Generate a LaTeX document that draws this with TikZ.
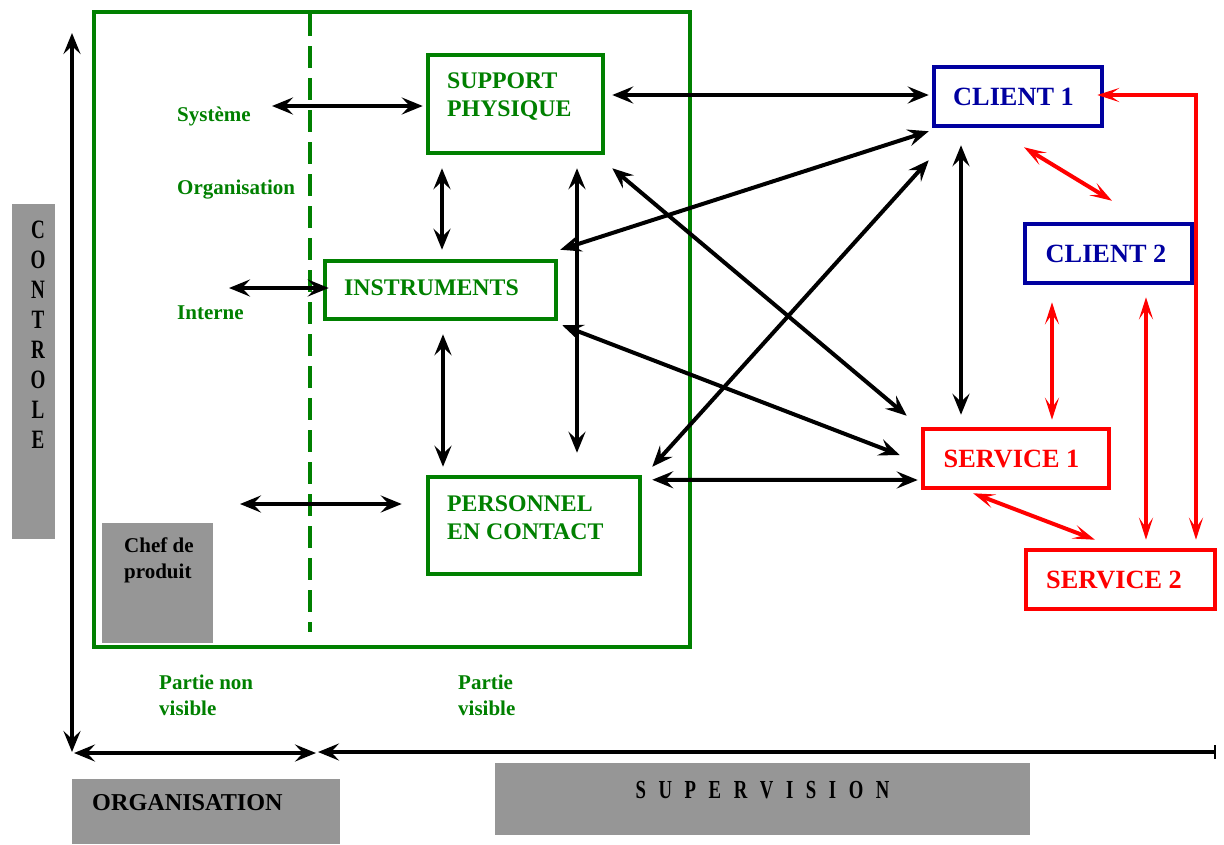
\documentclass[tikz,border=0pt]{standalone}
\usepackage{fontspec}
\usepackage{graphicx}
\setmainfont{Liberation Serif}
\usetikzlibrary{arrows.meta,calc}
\definecolor{dgreen}{RGB}{0,128,0}
\definecolor{dblue}{RGB}{0,0,160}
\definecolor{grayfill}{RGB}{150,150,150}
\definecolor{rred}{RGB}{255,0,0}
\newcommand{\narrow}[1]{\scalebox{0.72}[1]{#1}}
\tikzset{
  Bk/.tip={Stealth[length=21pt,width=17pt,inset=8pt]},
  Rd/.tip={Stealth[length=22pt,width=14pt,inset=10pt]},
  barr/.style={line width=4pt,black,Bk-Bk},
  redarr/.style={line width=4pt,rred,Rd-Rd},
  greenbox/.style={draw=dgreen,line width=4.5pt,inner sep=0pt},
  bluebox/.style={draw=dblue,line width=4.5pt,text=dblue,inner sep=0pt,font=\fontsize{26.3}{30}\selectfont\bfseries},
  redbox/.style={draw=rred,line width=4.5pt,text=rred,inner sep=0pt,font=\fontsize{26.3}{30}\selectfont\bfseries},
  greytile/.style={fill=grayfill,draw=none,inner sep=0pt},
  gtext/.style={text=dgreen,inner sep=0pt,anchor=west,align=left,font=\fontsize{23.8}{28}\selectfont\bfseries},
  gsmall/.style={text=dgreen,inner sep=0pt,anchor=west,align=left,font=\fontsize{21}{26}\selectfont\bfseries},
  btext/.style={text=black,inner sep=0pt,anchor=west,align=left,font=\fontsize{21}{26}\selectfont\bfseries},
  condtext/.style={text=black,inner sep=0pt,font=\fontsize{26.5}{30}\selectfont\bfseries},
}
\begin{document}
\begin{tikzpicture}[x=1pt,y=-1pt]
\useasboundingbox (0,0) rectangle (1224,844);

% grey tiles
\node[greytile,minimum width=43pt,minimum height=335pt] (ctrl) at (33.5,371.5) {};
\foreach \l [count=\i] in {C,O,N,T,R,O,L,E}
  \node[condtext] (ctl\i) at (38,{229.5+30.1*(\i-1)}) {\narrow{\l}};
\node[greytile,minimum width=268pt,minimum height=65pt] (orgbox) at (206,811.5) {};
\node[text=black,inner sep=0pt,anchor=west,font=\fontsize{24.2}{28}\selectfont\bfseries] (orgtxt) at (92,803) {ORGANISATION};
\node[greytile,minimum width=535pt,minimum height=72pt] (supbox) at (762.5,799) {};
\node[condtext,font=\fontsize{26}{30}\selectfont\bfseries] (suptxt) at (762.5,790)
  {\narrow{S\hspace{17.5pt}U\hspace{17.5pt}P\hspace{17.5pt}E\hspace{17.5pt}R\hspace{17.5pt}V\hspace{17.5pt}I\hspace{17.5pt}S\hspace{17.5pt}I\hspace{17.5pt}O\hspace{17.5pt}N}};

% main frame
\node[greenbox,minimum width=596pt,minimum height=635pt] (frame) at (392,329.5) {};
\node[greytile,minimum width=111pt,minimum height=120pt] (chef) at (157.5,583) {};
\node[btext] (cheftxt) at (124,560) {Chef de\\produit};
\coordinate (dtop) at (310,14);
\coordinate (dbot) at (310,632);
\draw[dgreen,line width=4pt,dash pattern=on 22pt off 10pt] (dtop) -- (dbot);

% green boxes
\node[greenbox,fill=white,minimum width=175pt,minimum height=98pt] (sp) at (515.5,104) {};
\node[gtext] (sptxt) at (447,97) {SUPPORT\\PHYSIQUE};
\node[greenbox,fill=white,minimum width=231pt,minimum height=58pt] (ins) at (440.5,290) {};
\node[gtext] (instxt) at (344,288) {INSTRUMENTS};
\node[greenbox,fill=white,minimum width=212pt,minimum height=97pt] (pc) at (534,525.5) {};
\node[gtext] (pctxt) at (447,518) {PERSONNEL\\EN CONTACT};

% side labels
\node[gsmall] (sys) at (177,116) {Système};
\node[gsmall] (orgl) at (177,190) {Organisation};
\node[gsmall] (int) at (177,313) {Interne};
\node[gsmall] (pnv) at (159,695) {Partie non\\visible};
\node[gsmall] (pv) at (458,695) {Partie\\visible};

% clients and services
\node[bluebox,minimum width=168pt,minimum height=59pt] (c1) at (1018,96.5) {\hspace*{-9pt}CLIENT 1};
\node[bluebox,minimum width=167pt,minimum height=59pt] (c2) at (1108.5,253.5) {\hspace*{-5pt}CLIENT 2};
\node[redbox,minimum width=186pt,minimum height=59pt] (s1) at (1016,458.5) {\hspace*{-9pt}SERVICE 1};
\node[redbox,minimum width=189pt,minimum height=59pt] (s2) at (1120.5,579.5) {\hspace*{-13pt}SERVICE 2};

% axes
\coordinate (ytop) at (72,33);
\coordinate (orig) at (72,752);
\coordinate (xmid) at (316,753);
\coordinate (xmidb) at (318,752);
\coordinate (xend) at (1216,752);
\draw[line width=4pt,Bk-Bk] (ytop) -- (orig);
\draw[line width=4pt,Bk-Bk] ($(orig)+(2,1)$) -- (xmid);
\draw[line width=4pt,Bk-{Bar[width=14pt,line width=2pt]}] (xmidb) -- (xend);

% left arrows
\coordinate (sysL) at (272,106);
\coordinate (insL) at (229,288);
\coordinate (pcL) at (240,504);
\draw[barr] (sysL) -- ($(sp.west)+(-3,2)$);
\draw[barr] (insL) -- ($(ins.west)+(6,-2)$);
\draw[barr] (pcL) -- ($(pc.west)+(-24,-21.5)$);

% black connectors
\draw[barr] ($(sp.east)+(7,-9)$) -- ($(c1.west)+(-3,-1.5)$);
\draw[barr] ($(sp.south)+(-73.5,13)$) -- ($(ins.north)+(1.5,-9)$);
\draw[barr] ($(sp.south)+(61.5,13)$) -- ($(pc.north)+(43,-22)$);
\draw[barr] ($(ins.south)+(2.5,13)$) -- ($(pc.north)+(-91,-8)$);
\draw[barr] ($(ins.north east)+(2,-9)$) -- ($(c1.south west)+(-3,3)$);
\draw[barr] ($(sp.south east)+(7,13)$) -- ($(s1.north west)+(-14,-11)$);
\draw[barr] ($(ins.south east)+(4,4)$) -- ($(s1.west)+(-21,-3.5)$);
\draw[barr] ($(pc.north east)+(10,-8)$) -- ($(c1.south west)+(-3,32)$);
\draw[barr] ($(pc.north east)+(10,5)$) -- ($(s1.west)+(-3,21.5)$);
\draw[barr] ($(c1.south)+(-57,17)$) -- ($(s1.north)+(-55,-12)$);

% red connectors
\draw[redarr] ($(c1.south)+(6,19)$) -- ($(c2.north)+(3.5,-21)$);
\draw[redarr] ($(c2.south)+(-56.5,17)$) -- ($(s1.north)+(36,-7)$);
\draw[redarr] ($(c2.south)+(37.5,12)$) -- ($(s2.north)+(25.5,-8)$);
\draw[redarr] ($(c1.east)+(-7,-1.5)$) -| ($(s2.north)+(75.5,-8)$);
\draw[redarr] ($(s1.south)+(-43,3)$) -- ($(s2.north)+(-25.5,-8)$);
\end{tikzpicture}
\end{document}
